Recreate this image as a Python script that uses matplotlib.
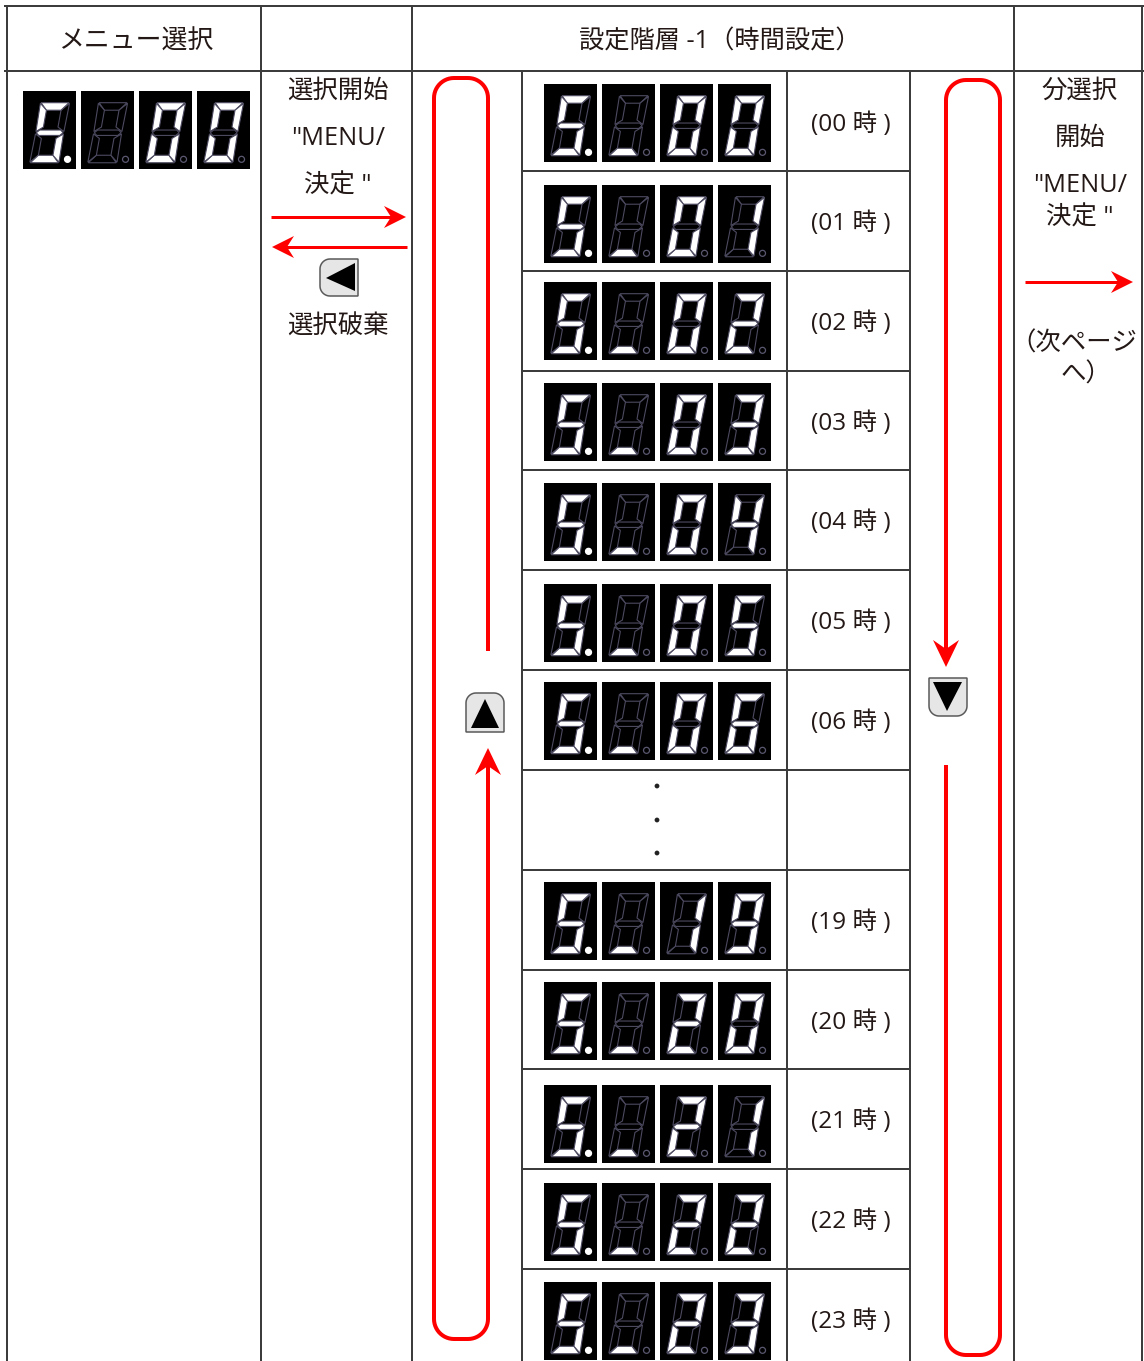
import numpy as np
import matplotlib
matplotlib.use("Agg")
import matplotlib.pyplot as plt
from matplotlib.patches import Polygon, Circle, Rectangle

plt.rcParams['font.family'] = ['Open Sans', 'Noto Sans CJK JP', 'DejaVu Sans']

# ---- data ----
hours = ["00", "01", "02", "03", "04", "05", "06", None, "19", "20", "21", "22", "23"]
hour_labels = ["(00 時 )", "(01 時 )", "(02 時 )", "(03 時 )", "(04 時 )", "(05 時 )", "(06 時 )", "",
               "(19 時 )", "(20 時 )", "(21 時 )", "(22 時 )", "(23 時 )"]
header_labels = ["メニュー選択", "設定階層 -1（時間設定）"]
start_lines = ["選択開始", '"MENU/', '決定 "']
discard_label = "選択破棄"
minute_lines = ["分選択", "開始", '"MENU/', '決定 "']
next_lines = ["（次ページ", "へ）"]
segments = {"0": "abcdef", "1": "bc", "2": "abged", "3": "abgcd", "4": "fgbc",
            "5": "afgcd", "6": "afgedc", "7": "abc", "8": "abcdefg", "9": "abcdfg", " ": "", "_": "d"}

# ---- layout (pixels) ----
W, H = 1144, 1361
row_lines = [72, 171, 271, 371, 470, 570, 670, 770, 870, 970, 1069, 1169, 1269]
disp_tops = [84, 185, 282, 383, 483, 584, 682, None, 882, 982, 1085, 1183, 1282]
disp_xs = [544, 602, 660, 718]
LINE = "#3c3c3c"
RED = "#ff0000"
px = 0.72

fig = plt.figure(figsize=(W / 100, H / 100), dpi=100)
ax = fig.add_axes([0, 0, 1, 1])
ax.set_xlim(0, W)
ax.set_ylim(H, 0)
ax.axis("off")


def seg_polys():
    t, s = 0.25, 0.125
    m = 0.5
    h = 0.045
    k = 0.14
    d = 0.05
    return {
        "a": [(0.02, 0), (0.98, 0), (1 - t, s), (t, s)],
        "d": [(0.02, 1), (0.98, 1), (1 - t, 1 - s), (t, 1 - s)],
        "f": [(0, 0.01), (t, s), (t, m - h - d), (0.02, m - 0.02)],
        "b": [(1, 0.01), (1 - t, s), (1 - t, m - h - d), (0.98, m - 0.02)],
        "e": [(0.02, m + 0.02), (t, m + h + d), (t, 1 - s), (0, 0.99)],
        "c": [(0.98, m + 0.02), (1 - t, m + h + d), (1 - t, 1 - s), (1, 0.99)],
        "g": [(0.04, m), (k, m - h), (1 - k, m - h), (0.96, m), (1 - k, m + h), (k, m + h)],
    }


POLYS = seg_polys()


def draw_digit(x, y, ch, dot):
    w, h = 53, 78
    ax.add_patch(Rectangle((x, y), w, h, fc="black", ec="none", zorder=2))
    lit = segments[ch]
    for name, pts in POLYS.items():
        q = []
        for u, v in pts:
            left = x + w * (0.33 - 0.203 * v)
            q.append((left + u * w * 0.55, y + h * (0.15 + 0.77 * v)))
        on = name in lit
        ax.add_patch(Polygon(q, closed=True, fc="white" if on else "black",
                             ec="#4c4a60", lw=0.8, zorder=3 if not on else 4))
    ax.add_patch(Circle((x + w * 0.84, y + h * 0.876), 3.0, fc="white" if dot else "black",
                        ec="white" if dot else "#5a5870", lw=0.9, zorder=4))


def draw_display(xs, y, chars):
    for i, (x, c) in enumerate(zip(xs, chars)):
        draw_digit(x, y, c, i == 0)


def arc(cx, cy, r, a0, a1, n=14):
    a = np.radians(np.linspace(a0, a1, n))
    return np.column_stack([cx + r * np.cos(a), cy + r * np.sin(a)])


def round_box(x0, y0, x1, y1, radii):
    tl, tr, br, bl = radii
    parts = [arc(x0 + tl, y0 + tl, tl, 180, 270), arc(x1 - tr, y0 + tr, tr, 270, 360),
             arc(x1 - br, y1 - br, br, 0, 90), arc(x0 + bl, y1 - bl, bl, 90, 180)]
    return np.vstack(parts)


def arrow_head(tx, ty, dx, dy, length=27, half=13, notch=18, lw_color=RED):
    nx, ny = -dy, dx
    pts = [(tx, ty),
           (tx - dx * length + nx * half, ty - dy * length + ny * half),
           (tx - dx * notch, ty - dy * notch),
           (tx - dx * length - nx * half, ty - dy * length - ny * half)]
    ax.add_patch(Polygon(pts, closed=True, fc=lw_color, ec="none", zorder=6))


def h_arrow(x0, x1, y):
    d = 1 if x1 > x0 else -1
    ax.plot([x0, x1 - d * 10], [y, y], color=RED, lw=3 * px, solid_capstyle="butt", zorder=5)
    arrow_head(x1, y, d, 0, length=22, half=11, notch=15)


def button(x0, y0, x1, y1, radii, tri):
    ax.add_patch(Polygon(round_box(x0, y0, x1, y1, radii), closed=True, fc="#e6e6e6",
                         ec="#5a5a5a", lw=1.1, zorder=5))
    ax.add_patch(Polygon(tri, closed=True, fc="black", ec="none", zorder=6))


# ---- grid ----
for x in [6.5, 260.5, 411.5, 1013.5, 1142]:
    ax.plot([x, x], [6, H], color=LINE, lw=2 * px, zorder=1, solid_capstyle="butt")
for x in [522, 787, 910]:
    ax.plot([x, x], [71, H], color=LINE, lw=2 * px, zorder=1, solid_capstyle="butt")
ax.plot([5, 1143], [6, 6], color=LINE, lw=2 * px, zorder=1)
ax.plot([5, 1143], [71, 71], color=LINE, lw=2 * px, zorder=1)
for y in row_lines[1:]:
    ax.plot([522, 910], [y, y], color=LINE, lw=2 * px, zorder=1)

# ---- text ----
FS = 18.3
TXT = "#231815"


def label(x, y, s, fs=FS):
    ax.text(x, y, s, ha="center", va="center", fontsize=fs, color=TXT, zorder=7)


label(136, 42, header_labels[0], fs=18.6)
label(720, 42, header_labels[1], fs=18.2)
for yy, s in zip([91, 138, 186], start_lines):
    label(338, yy, s)
label(338, 327, discard_label)
for (xx, yy), s in zip([(1080, 91), (1080, 138), (1080, 185), (1080, 218)], minute_lines):
    label(xx, yy, s)
for (xx, yy), s in zip([(1074, 344), (1086, 375)], next_lines):
    label(xx, yy, s)

# ---- displays ----
draw_display([23, 81, 139, 197], 91, "5 00")
for hour, top, lab, y0, in zip(hours, disp_tops, hour_labels, row_lines):
    if hour is not None:
        draw_display(disp_xs, top, "5_" + hour)
        label(851, y0 + 53, lab, fs=17.6)
    else:
        for yy in [786, 820, 853]:
            ax.add_patch(Circle((657, yy), 2.4, fc="#222222", ec="none", zorder=3))

# ---- red loops ----
lw_loop = 4 * px
xl, xr, yt, yb, r = 434, 488, 78, 1339, 20
left_path = np.vstack([[[xr, 651]], arc(xr - r, yt + r, r, 0, -90), arc(xl + r, yt + r, r, -90, -180),
                       arc(xl + r, yb - r, r, 180, 90), arc(xr - r, yb - r, r, 90, 0), [[xr, 760]]])
ax.plot(left_path[:, 0], left_path[:, 1], color=RED, lw=lw_loop, solid_capstyle="butt", zorder=5)
arrow_head(488, 748, 0, -1)
xl, xr, yt, yb, r = 946, 1000, 80, 1355, 20
right_path = np.vstack([[[xl, 655]], arc(xl + r, yt + r, r, 180, 270), arc(xr - r, yt + r, r, 270, 360),
                        arc(xr - r, yb - r, r, 0, 90), arc(xl + r, yb - r, r, 90, 180), [[xl, 765]]])
ax.plot(right_path[:, 0], right_path[:, 1], color=RED, lw=lw_loop, solid_capstyle="butt", zorder=5)
arrow_head(946, 667, 0, 1)

# ---- thin arrows ----
h_arrow(271, 406, 217)
h_arrow(407, 272, 247)
h_arrow(1025, 1133, 282)

# ---- buttons ----
button(466, 693, 504, 732, (10, 10, 0.5, 0.5), [(485, 699), (499, 728), (471, 728)])
button(929, 678, 967, 716, (0.5, 0.5, 10, 10), [(933, 682), (962, 682), (947, 711)])
button(320, 259, 358, 296, (10, 0.5, 0.5, 10), [(326, 278), (355, 263), (355, 291)])

fig.savefig("out.png", dpi=100, facecolor="white")
